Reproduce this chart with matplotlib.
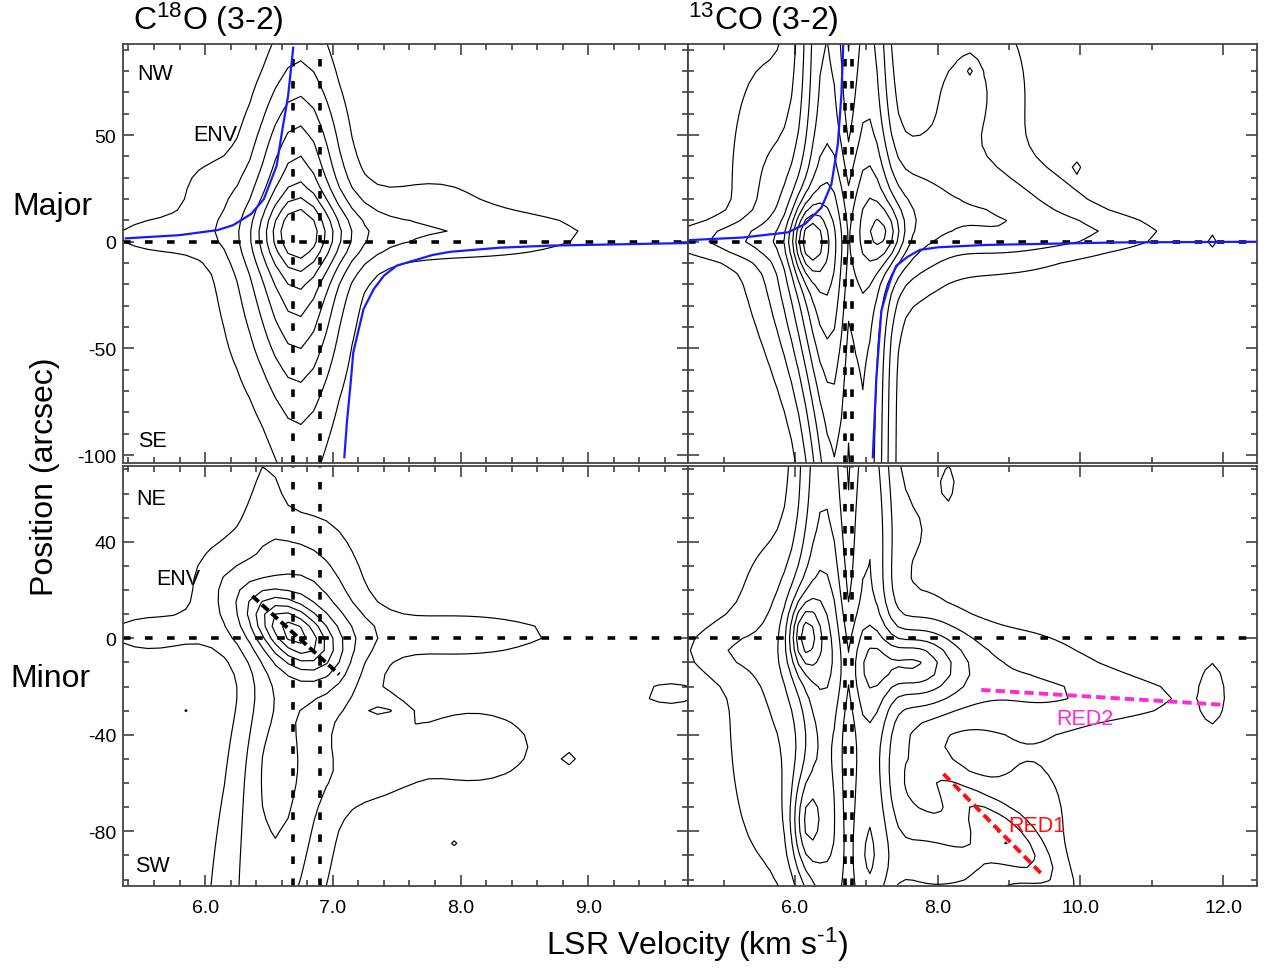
import numpy as np
import matplotlib
matplotlib.use("Agg")
import matplotlib.pyplot as plt
from matplotlib.ticker import MultipleLocator, FixedLocator, FormatStrFormatter

plt.rcParams['font.family'] = ['Liberation Sans', 'DejaVu Sans']
plt.rcParams['mathtext.fontset'] = 'custom'
plt.rcParams['mathtext.rm'] = 'Liberation Sans'
plt.rcParams['mathtext.default'] = 'regular'
plt.rcParams['axes.unicode_minus'] = False

# ---------------- axis ranges ----------------
C18O_VRANGE = (5.36, 9.78)
CO13_VRANGE = (4.50, 12.47)
MAJOR_PRANGE = (-103.7, 92.7)
MINOR_PRANGE = (-102.8, 71.4)

# data cube sampling (channel width in km/s, pixel size in arcsec)
CHANNEL_WIDTH = 0.1
PIXEL_SIZE = 5.0

C18O_LEVELS = [1, 2, 3, 4, 5, 6, 7, 8]
CO13_LEVELS = [1, 2, 3, 4, 5, 6, 7, 8, 9, 10]

# emission components:
# (v0, p0, sigma_v, sigma_p, amplitude, dv/dp shear, dp/dv tilt)
C18O_MAJOR_BLOBS = [
    (6.70, 5.5, 0.16, 10, 1.2, 0, 0),
    (6.74, 3.0, 0.27, 45, 3.4, 0, 0),
    (6.75, -5.0, 0.19, 110, 1.5, 0, 0),
    (6.52, -15.0, 0.38, 45, 1.5, 0, 0),
    (6.70, 45.0, 0.22, 25, 0.6, 0, 0),
    (6.90, 2.0, 0.45, 14, 1.5, 0, 0),
    (8.00, 4.0, 0.85, 10, 1.8, 0, 0),
    (5.60, 3.0, 0.35, 8, 1.3, 0, 0),
    (6.00, 25.0, 0.20, 12, 0.9, 0, 0),
    (7.80, 24.0, 0.35, 9, 0.9, 0, 0),
]
C18O_MINOR_BLOBS = [
    (6.67, 3.5, 0.17, 10, 3.5, -0.012, 0),
    (6.67, 2.0, 0.32, 17, 3.0, -0.010, 0),
    (6.58, -75.0, 0.33, 80, 2.7, 0.003, 0),
    (6.52, -45.0, 0.15, 25, 1.0, 0, 0),
    (6.72, 32.0, 0.25, 17, 1.2, -0.012, 0),
    (6.47, 65.0, 0.11, 15, 0.9, 0, 0),
    (6.15, 25.0, 0.25, 15, 1.0, 0, 0),
    (5.55, 2.0, 0.35, 8, 1.35, 0, 0),
    (7.95, 2.0, 0.75, 8, 1.5, 0, 0),
    (8.10, -45.0, 0.55, 18, 1.35, 0, 0),
    (7.30, -57.0, 0.25, 10, 0.8, 0, 0),
    (8.85, -22.0, 0.15, 8, 0.7, 0, 0),
    (9.65, -23.0, 0.30, 7, 1.2, 0, 0),
    (7.40, -30.0, 0.12, 3.5, 1.3, 0, 0),
    (5.85, -30.0, 0.04, 1.5, 1.0, 0, 0),
    (8.85, -50.0, 0.04, 1.5, 1.0, 0, 0),
    (7.95, -85.0, 0.04, 1.5, 1.1, 0, 0),
]
CO13_MAJOR_BLOBS = [
    (6.47, 20.0, 0.27, 250, 5.0, -0.0006, 0),
    (5.60, 30.0, 0.45, 50, 1.7, 0, 0),
    (6.20, -45.0, 0.35, 35, 1.6, 0, 0),
    (6.17, 1.0, 0.16, 12, 4.0, 0, 0),
    (6.20, -5.0, 0.40, 30, 2.5, 0, 0),
    (5.00, 1.0, 0.70, 7, 1.8, 0, 0),
    (7.05, 0.0, 0.22, 250, 4.0, 0, 0),
    (7.30, 3.0, 0.18, 10, 2.5, 0, 0),
    (7.45, 10.0, 0.45, 28, 2.5, 0, 0),
    (8.80, 10.0, 1.00, 18, 2.4, 0, 0),
    (10.30, 4.0, 0.90, 7, 1.2, 0, 0),
    (8.40, 70.0, 0.65, 35, 2.2, 0, 0),
    (11.85, 0.0, 0.08, 4, 1.1, 0, 0),
    (8.45, 80.0, 0.06, 3, 1.2, 0, 0),
    (9.95, 35.0, 0.04, 1.5, 1.0, 0, 0),
    (6.75, 0.0, 0.07, 400, -1.0, 0, 0),
]
CO13_MINOR_BLOBS = [
    (6.45, -20.0, 0.27, 200, 4.0, -0.0006, 0),
    (5.50, -30.0, 0.45, 60, 1.5, 0, 0),
    (6.12, 1.0, 0.14, 10, 3.5, 0, 0),
    (6.15, -2.0, 0.35, 25, 2.5, 0, 0),
    (6.15, -77.0, 0.14, 14, 2.5, 0, 0),
    (6.20, -75.0, 0.30, 25, 1.5, 0, 0),
    (4.90, -5.0, 0.45, 9, 1.2, 0, 0),
    (7.05, -20.0, 0.22, 200, 3.5, 0, 0),
    (7.60, -10.0, 0.30, 6, 1.5, 0, 0),
    (7.70, -12.0, 0.55, 14, 3.8, 0, 0),
    (9.00, -12.0, 1.00, 16, 1.5, 0, 0),
    (10.40, -25.0, 1.20, 9, 1.2, 0, 0),
    (8.20, -95.0, 0.70, 15, 3.0, 0, 0),
    (8.80, -78.0, 0.30, 20, 2.0, -0.033, 0),
    (9.30, -70.0, 0.60, 25, 1.2, 0, 0),
    (7.50, -70.0, 0.40, 30, 1.5, 0, 0),
    (7.70, 45.0, 0.45, 25, 1.0, 0, 0),
    (9.20, 38.0, 0.08, 8, 1.2, 0, 0),
    (8.15, 65.0, 0.08, 6, 1.1, 0, 0),
    (11.85, -22.0, 0.12, 12, 1.3, 0, 0),
    (6.75, 0.0, 0.07, 400, -1.0, 0, 0),
]

# Keplerian rotation curves (blue lines)
C18O_KEP_BLUE_V = [5.38, 5.80, 6.10, 6.22, 6.36, 6.46, 6.56, 6.61, 6.65, 6.69]
C18O_KEP_BLUE_P = [1.6, 3.1, 5.5, 7.8, 13.0, 20.0, 35.6, 54.4, 68.4, 91.0]
C18O_KEP_RED_V = [7.09, 7.11, 7.14, 7.16, 7.24, 7.32, 7.40, 7.50, 7.78, 7.92, 8.30, 8.70, 9.78]
C18O_KEP_RED_P = [-101.0, -84.7, -65.9, -51.9, -31.6, -22.2, -15.9, -11.2, -6.2, -4.7, -2.8, -1.8, -0.6]
CO13_KEP_BLUE_V = [4.53, 5.27, 5.90, 6.14, 6.37, 6.51, 6.60, 6.65, 6.675]
CO13_KEP_BLUE_P = [0.8, 2.0, 4.4, 8.3, 16.0, 27.0, 45.8, 69.0, 92.0]
CO13_KEP_RED_V = [7.09, 7.14, 7.21, 7.28, 7.35, 7.42, 7.58, 7.75, 8.00, 8.66, 10.55, 12.45]
CO13_KEP_RED_P = [-101.0, -63.6, -32.3, -24.0, -16.7, -11.2, -7.0, -3.8, -2.6, -1.5, -0.3, 0.0]

# reference lines
C18O_SYS_VEL = [6.69, 6.90]
CO13_SYS_VEL = [6.70, 6.80]
ENV_DIAG_V = [6.37, 7.05]
ENV_DIAG_P = [17.5, -15.0]
RED1_V = [8.08, 9.48]
RED1_P = [-56.2, -98.4]
RED2_V = [8.61, 12.02]
RED2_P = [-21.4, -27.6]


def field(vr, pr, blobs):
    v = np.arange(np.floor(vr[0] * 10) / 10 - 0.05, vr[1] + CHANNEL_WIDTH, CHANNEL_WIDTH)
    p = np.arange(-105.0, pr[1] + PIXEL_SIZE, PIXEL_SIZE)
    V, P = np.meshgrid(v, p)
    Z = np.zeros_like(V)
    for v0, p0, sv, sp, a, s, k in blobs:
        dv = V - v0 - s * (P - p0)
        dp = P - p0 - k * (V - v0)
        Z += a * np.exp(-0.5 * (dv / sv) ** 2 - 0.5 * (dp / sp) ** 2)
    return V, P, Z


W, H = 1270, 970
fig = plt.figure(figsize=(W / 100, H / 100), dpi=100)

def ax_at(x0, y0, x1, y1):
    return fig.add_axes([x0 / W, 1 - y1 / H, (x1 - x0) / W, (y1 - y0) / H])

ax_tl = ax_at(123.3, 45, 688, 464)
ax_tr = ax_at(688, 45, 1256.7, 464)
ax_bl = ax_at(123.3, 467, 688, 887.3)
ax_br = ax_at(688, 467, 1256.7, 887.3)

DASH = dict(color='k', lw=2.6, dashes=(2.1, 4.0))

panels = [
    (ax_tl, C18O_VRANGE, MAJOR_PRANGE, C18O_MAJOR_BLOBS, C18O_LEVELS, C18O_SYS_VEL,
     (C18O_KEP_BLUE_V, C18O_KEP_BLUE_P, C18O_KEP_RED_V, C18O_KEP_RED_P)),
    (ax_tr, CO13_VRANGE, MAJOR_PRANGE, CO13_MAJOR_BLOBS, CO13_LEVELS, CO13_SYS_VEL,
     (CO13_KEP_BLUE_V, CO13_KEP_BLUE_P, CO13_KEP_RED_V, CO13_KEP_RED_P)),
    (ax_bl, C18O_VRANGE, MINOR_PRANGE, C18O_MINOR_BLOBS, C18O_LEVELS, C18O_SYS_VEL, None),
    (ax_br, CO13_VRANGE, MINOR_PRANGE, CO13_MINOR_BLOBS, CO13_LEVELS, CO13_SYS_VEL, None),
]

for ax, vr, pr, blobs, levels, sysv, kep in panels:
    V, P, Z = field(vr, pr, blobs)
    ax.contour(V, P, Z, levels=levels, colors='k', linewidths=0.85)
    for sv in sysv:
        ax.axvline(sv, **DASH)
    ax.axhline(0, **DASH)
    if kep is not None:
        ax.plot(kep[0], kep[1], color='#1a1aff', lw=1.6)
        ax.plot(kep[2], kep[3], color='#1a1aff', lw=1.6)
    ax.set_xlim(vr)
    ax.set_ylim(pr)
    ax.tick_params(which='both', direction='in', top=True, right=True,
                   labelsize=14, width=1.1, color='#333333')
    ax.tick_params(which='major', length=8)
    ax.tick_params(which='minor', length=4)
    ax.tick_params(axis='x', pad=9)
    ax.tick_params(axis='y', pad=5)
    for sp in ax.spines.values():
        sp.set_color('#444444')
        sp.set_linewidth(1.3)

# ticks
for ax in (ax_tl, ax_bl):
    ax.xaxis.set_major_locator(FixedLocator([6, 7, 8, 9]))
    ax.xaxis.set_minor_locator(MultipleLocator(0.2))
for ax in (ax_tr, ax_br):
    ax.xaxis.set_major_locator(FixedLocator([6, 8, 10, 12]))
    ax.xaxis.set_minor_locator(MultipleLocator(1.0))
for ax in (ax_tl, ax_tr):
    ax.yaxis.set_major_locator(FixedLocator([-100, -50, 0, 50]))
    ax.yaxis.set_minor_locator(MultipleLocator(10))
    ax.tick_params(labelbottom=False)
for ax in (ax_bl, ax_br):
    ax.yaxis.set_major_locator(FixedLocator([-80, -40, 0, 40]))
    ax.yaxis.set_minor_locator(MultipleLocator(10))
    ax.xaxis.set_major_formatter(FormatStrFormatter('%.1f'))
for ax in (ax_tr, ax_br):
    ax.tick_params(labelleft=False)

# extra lines in minor-axis panels
ax_bl.plot(ENV_DIAG_V, ENV_DIAG_P, color='k', lw=2.8, dashes=(2.2, 1.1))
ax_br.plot(RED1_V, RED1_P, color='#ff1010', lw=2.8, dashes=(2.4, 1.3))
ax_br.plot(RED2_V, RED2_P, color='#ff2ad4', lw=2.8, dashes=(2.4, 1.3))

# annotations
ANN = dict(fontsize=15.5, ha='left', va='baseline')
ax_tl.text(5.467, 76.3, 'NW', **ANN)
ax_tl.text(5.904, 47.6, 'ENV', **ANN)
ax_tl.text(5.477, -95.6, 'SE', **ANN)
ax_bl.text(5.459, 55.7, 'NE', **ANN)
ax_bl.text(5.621, 22.4, 'ENV', **ANN)
ax_bl.text(5.451, -96.4, 'SW', **ANN)
ax_br.text(9.665, -35.5, 'RED2', color='#ff2ad4', **ANN)
ax_br.text(8.99, -79.7, 'RED1', color='#ff1010', **ANN)

# titles and labels
fig.text(132.7 / W, 1 - 30 / H, 'C$^{18}$O (3-2)', fontsize=23, ha='left', va='baseline')
fig.text(688.3 / W, 1 - 30 / H, '$^{13}$CO (3-2)', fontsize=23, ha='left', va='baseline')
fig.text(12 / W, 1 - 215 / H, 'Major', fontsize=23, ha='left', va='baseline')
fig.text(10 / W, 1 - 686.7 / H, 'Minor', fontsize=23, ha='left', va='baseline')
fig.text(45 / W, 1 - 477 / H, 'Position (arcsec)', fontsize=23, rotation=90,
         ha='center', va='center')
fig.text(697 / W, 1 - 955 / H, 'LSR Velocity (km s$^{\u2010 1}$)', fontsize=23,
         ha='center', va='baseline')

fig.savefig('out.png', dpi=100)
